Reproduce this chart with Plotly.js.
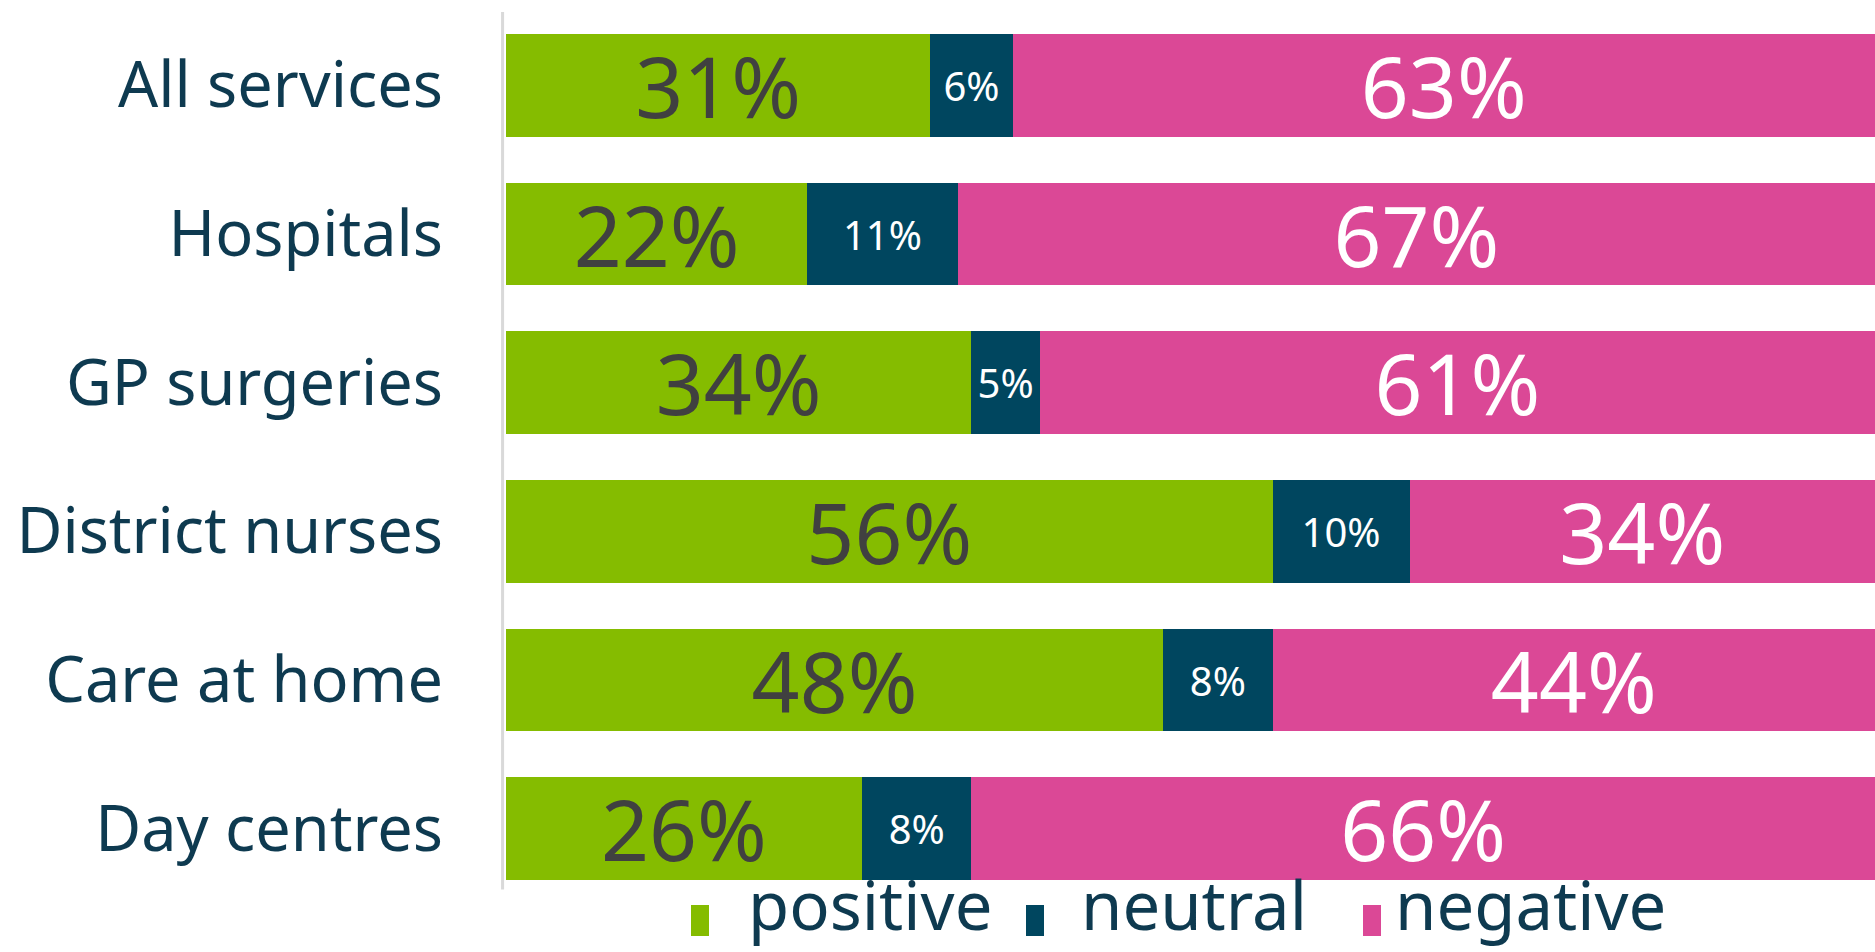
<!DOCTYPE html>
<html>
<head>
<meta charset="utf-8">
<script src="https://cdn.plot.ly/plotly-3.0.1.min.js"></script>
<style>
  html, body { margin: 0; padding: 0; background: #ffffff; }
  #chart { width: 1875px; height: 952px; }
</style>
</head>
<body>
<div id="chart"></div>
<script>
const categories = ["All services", "Hospitals", "GP surgeries", "District nurses", "Care at home", "Day centres"];
const positive = [31, 22, 34, 56, 48, 26];
const neutral  = [6, 11, 5, 10, 8, 8];
const negative = [63, 67, 61, 34, 44, 66];
const seriesNames = ["positive", "neutral", "negative"];

const FONT = "'Noto Sans', 'DejaVu Sans', sans-serif";
const labelColor = "#0e3a50";
const colors = ["#85bc00", "#00465f", "#db4896"];

function barTrace(name, values, color, textColor, textSize) {
  return {
    type: "bar",
    orientation: "h",
    name: name,
    y: categories,
    x: values,
    marker: { color: color, line: { width: 0 } },
    texttemplate: "%{x}%",
    textposition: "inside",
    insidetextanchor: "middle",
    textangle: 0,
    constraintext: "none",
    textfont: { family: FONT, size: textSize, color: textColor },
    hoverinfo: "skip"
  };
}

const data = [
  barTrace(seriesNames[0], positive, colors[0], "#404040", 84),
  barTrace(seriesNames[1], neutral, colors[1], "#ffffff", 40),
  barTrace(seriesNames[2], negative, colors[2], "#ffffff", 84)
];

// Legend drawn as paper-anchored shapes + annotations (large tall swatches like the reference)
const plotL = 506, plotW = 1369, plotB = 903, plotH = 892;
const px = v => (v - plotL) / plotW;
const py = v => (plotB - v) / plotH;
const swatchX = [691, 1026, 1363];
const textX = [747, 1080, 1394];

const shapes = [
  {
    type: "line",
    xref: "paper", yref: "paper",
    x0: -0.0025, x1: -0.0025,
    y0: 0.015, y1: 0.999,
    line: { color: "#d9d9d9", width: 3 }
  }
];
const annotations = [];
seriesNames.forEach((n, i) => {
  shapes.push({
    type: "rect",
    xref: "paper", yref: "paper",
    x0: px(swatchX[i]), x1: px(swatchX[i] + 18),
    y0: py(936), y1: py(905),
    fillcolor: colors[i],
    line: { width: 0 }
  });
  annotations.push({
    xref: "paper", yref: "paper",
    x: px(textX[i]), y: py(951),
    xanchor: "left", yanchor: "bottom",
    borderpad: 0,
    text: n,
    showarrow: false,
    font: { family: FONT, size: 67, color: labelColor }
  });
});

const layout = {
  width: 1875,
  height: 952,
  barmode: "stack",
  bargap: 0.31,
  margin: { l: plotL, r: 0, t: 11, b: 952 - plotB, pad: 0 },
  paper_bgcolor: "#ffffff",
  plot_bgcolor: "#ffffff",
  font: { family: FONT, color: labelColor },
  showlegend: false,
  xaxis: {
    range: [0, 100],
    showgrid: false,
    zeroline: false,
    showticklabels: false,
    showline: false,
    fixedrange: true
  },
  yaxis: {
    type: "category",
    autorange: "reversed",
    showgrid: false,
    zeroline: false,
    showline: false,
    ticks: "",
    ticklabelstandoff: 62,
    tickfont: { family: FONT, size: 63, color: labelColor },
    fixedrange: true
  },
  shapes: shapes,
  annotations: annotations
};

Plotly.newPlot("chart", data, layout, { displayModeBar: false, staticPlot: true });
</script>
</body>
</html>
